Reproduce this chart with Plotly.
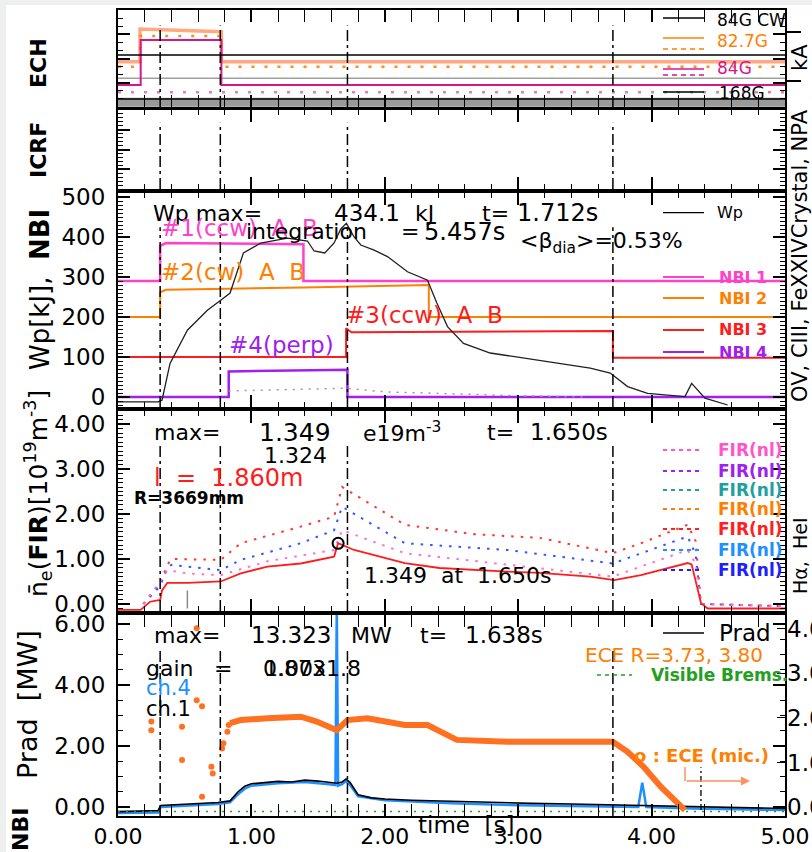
import plotly.graph_objects as go

W, H = 812, 852
FONT = "DejaVu Sans"

# ---------------- data ----------------
t_marks = [0.316, 0.767, 1.72, 3.71]
x_tick_vals = [0, 1, 2, 3, 4, 5]

# ECH panel (arbitrary units)
ech_cw_t = [0, 5]
ech_cw_v = [5.36, 5.36]
ech_gray_v = [2.96, 2.96]
ech827_t = [0, 0.165, 0.165, 0.775, 0.775, 5]
ech827_v = [4.67, 4.67, 8.04, 7.76, 4.67, 4.67]
ech827d_v = [4.15, 4.15, 7.32, 7.32, 4.15, 4.15]
ech84_t = [0, 0.17, 0.17, 0.775, 0.775, 5]
ech84_v = [2.27, 2.27, 6.9, 6.9, 2.27, 2.27]
ech84d_v = [1.52, 1.52]
ech168_v = [0.82, 0.82]
ech_band_v = [0.5, 0.5]
ka_ticks = [2.68, 7.73]

# NBI / Wp panel [kJ]
wp_t = [0, 0.30, 0.33, 0.39, 0.52, 0.67, 0.77, 0.84, 0.94, 1.07, 1.27, 1.42, 1.47, 1.55,
        1.62, 1.67, 1.712, 1.77, 1.82, 1.92, 2.02, 2.17, 2.32, 2.39, 2.47, 2.59, 2.79,
        3.16, 3.54, 3.69, 3.82, 3.97, 4.25, 4.30, 4.40, 4.57]
wp_v = [-12, -12, -8, 84, 167, 217, 242, 260, 360, 385, 397, 390, 365, 360,
        385, 420, 434.1, 400, 380, 367, 351, 313, 292, 235, 176, 134, 110,
        92, 72, 60, 26, 9, 1, 34, -3, -20]
nbi1_t = [0, 0.316, 0.316, 0.36, 1.39, 1.39, 5]
nbi1_v = [290, 290, 378, 385, 382, 290, 290]
nbi2_t = [0, 0.316, 0.316, 0.36, 1.39, 2.33, 2.33, 5]
nbi2_v = [200, 200, 262, 268, 274, 280, 200, 200]
nbi3_t = [0, 1.71, 1.71, 1.75, 3.71, 3.71, 5]
nbi3_v = [100, 100, 172, 162, 165, 98, 98]
nbi4_t = [0, 0.83, 0.83, 1.72, 1.72, 5]
nbi4_v = [0, 0, 64, 68, 0, 0]
nbi_gray_t = [0.83, 1.2, 1.7, 2.0, 2.5, 3.0, 3.5]
nbi_gray_v = [15, 18, 22, 13, 8, 3, 0]
nbi_ticks = [0, 100, 200, 300, 400, 500]

# FIR density panel [1e19 m^-3]
ne_t = [0, 0.17, 0.24, 0.316, 0.33, 0.37, 0.52, 0.77, 0.92, 1.12, 1.37, 1.62, 1.65, 1.77,
        2.15, 2.41, 2.92, 3.16, 3.54, 3.72, 3.92, 4.27, 4.30, 4.37, 4.42, 5.0]
ne_v = [-0.13, -0.13, 0.05, 0.09, 0.3, 0.47, 0.47, 0.5, 0.68, 0.83, 0.9, 1.05, 1.349, 1.2,
        0.91, 0.8, 0.72, 0.69, 0.61, 0.53, 0.64, 0.91, 0.88, 0.02, -0.1, -0.1]
fir_up_t = [0.19, 0.316, 0.37, 0.40, 0.77, 0.92, 1.37, 1.62, 1.68, 2.15, 2.67, 3.16, 3.71,
            3.92, 4.27, 4.33, 4.37, 5.0]
fir_up_v = [0.0, 0.47, 0.87, 1.0, 0.98, 1.35, 1.72, 1.94, 2.6, 1.76, 1.55, 1.47, 1.13,
            1.35, 1.76, 1.4, 0.0, -0.05]
fir_mid_t = [0.19, 0.316, 0.37, 0.40, 0.77, 0.92, 1.37, 1.62, 1.68, 2.15, 2.92, 3.71, 4.27,
             4.33, 4.37, 5.0]
fir_mid_v = [0.0, 0.4, 0.8, 0.87, 0.75, 0.98, 1.35, 1.64, 2.16, 1.35, 1.2, 0.9, 1.5,
             1.1, 0.0, -0.05]
fir_lo_t = [0.19, 0.316, 0.37, 0.52, 0.77, 1.12, 1.62, 1.68, 2.15, 2.92, 3.71, 4.27, 4.33,
            4.37, 5.0]
fir_lo_v = [0.0, 0.5, 0.75, 0.68, 0.64, 0.95, 1.2, 1.64, 1.13, 0.87, 0.61, 1.2, 0.9,
            0.0, -0.05]
fir_spike_t = [0.52, 0.52]
fir_spike_v = [-0.1, 0.3]
fir_max_t = [1.65]
fir_max_v = [1.349]
fir_ticks = [0, 1, 2, 3, 4]
fir_legend = ["FIR(nl)"] * 7
fir_legend_colors = ["#ff55cc", "#a020f0", "#20a0a0", "#ff8000", "#ff2020", "#1e90ff", "#2020ff"]

# Prad panel [MW]
prad_t = [0, 0.3, 0.32, 0.45, 0.6, 0.75, 0.84, 0.9, 0.95, 1.0, 1.1, 1.2, 1.3, 1.4, 1.5,
          1.6, 1.64, 1.68, 1.71, 1.74, 1.8, 1.9, 2.0, 2.2, 2.5, 2.8, 3.1, 3.4, 3.7, 4.0,
          4.3, 4.6, 5.0]
prad_v = [-0.15, -0.12, 0.05, 0.08, 0.12, 0.15, 0.2, 0.5, 0.68, 0.76, 0.8, 0.84, 0.82,
          0.88, 0.85, 0.8, 0.78, 0.82, 0.92, 0.8, 0.4, 0.3, 0.26, 0.22, 0.18, 0.15, 0.12,
          0.1, 0.07, 0.05, 0.02, 0.0, -0.05]
ch4_t = [0, 0.3, 0.32, 0.45, 0.6, 0.75, 0.84, 0.9, 0.95, 1.0, 1.2, 1.4, 1.6, 1.63, 1.64,
         1.65, 1.68, 1.71, 1.74, 1.8, 2.0, 2.5, 3.0, 3.5, 3.9, 3.93, 3.96, 4.3, 5.0]
ch4_v = [-0.2, -0.18, 0.0, 0.03, 0.07, 0.1, 0.15, 0.42, 0.6, 0.7, 0.78, 0.82, 0.74, 0.72,
         6.6, 0.7, 0.75, 0.85, 0.72, 0.35, 0.22, 0.12, 0.06, 0.02, 0.0, 0.8, 0.0, -0.05, -0.1]
ece_t = [0.84, 0.92, 1.12, 1.37, 1.49, 1.64, 1.72, 1.87, 2.15, 2.32, 2.54, 2.92, 3.71,
         3.82, 3.94, 4.07, 4.25]
ece_v = [2.75, 2.85, 2.91, 2.96, 2.8, 2.52, 2.85, 2.91, 2.69, 2.69, 2.2, 2.14, 2.14,
         1.81, 1.32, 0.66, -0.1]
ece_early_t = [0.25, 0.25, 0.48, 0.48, 0.59, 0.63, 0.59, 0.70, 0.71, 0.63, 0.78, 0.79, 0.82, 0.83]
ece_early_v = [2.8, 2.52, 2.63, 1.54, 3.5, 3.3, 5.86, 1.32, 1.1, 0.34, 1.92, 2.09, 2.47, 2.69]
brems_t = [0, 5]
brems_v = [-0.1, -0.1]          # on the right-hand axis
ece_mic_t = [4.37, 4.37]
ece_mic_v = [-0.1, 1.3]
prad_ticks = [0, 2, 4, 6]
r_ticks = [0, 1, 2, 3, 4]
r_labels = ["0.00", "1.00", "2.00", "3.00", "4.00"]

# ---------------- colours ----------------
BLACK = "#000000"
PINK = "#ff40c8"
ORANGE = "#ff8000"
RED = "#ff1c1c"
PURPLE = "#a020f0"
SALMON = "#ffa882"
ECH_OR = "#ff8c1a"
MAGENTA = "#d4188c"
PINKDOT = "#e47cc4"
CH4 = "#1f8fff"
GREEN = "#22a022"
ECE = "#ff7020"

# ---------------- layout geometry (pixels) ----------------
panels = {1: (10, 107), 2: (110, 189), 3: (193, 407), 4: (411, 611), 5: (615, 816)}
ranges = {1: [0, 10], 2: [0, 1], 3: [-25, 510], 4: [-0.156, 4.289], 5: [-0.295, 6.295]}
XL, XR = 118, 785


def px(x):
    return x / W


def py(y):
    return 1 - y / H


fig = go.Figure()


def add(x, y, xa, ya, color, width=1.5, dash="solid", mode="lines", marker=None):
    fig.add_trace(go.Scatter(x=x, y=y, xaxis=xa, yaxis=ya, mode=mode,
                             line=dict(color=color, width=width, dash=dash),
                             marker=marker, showlegend=False, hoverinfo="skip"))


DOTS = "3px,10px"
# ECH
add(ech_cw_t, ech_band_v, "x", "y", "#9a9a9a", 9)
add(ech_cw_t, ech168_v, "x", "y", BLACK, 1.5)
add(ech_cw_t, ech_gray_v, "x", "y", "#a0a0a0", 1.5)
add(ech_cw_t, ech_cw_v, "x", "y7", BLACK, 1.5)
add(ech827_t, ech827_v, "x", "y", SALMON, 3.5)
add(ech827_t, ech827d_v, "x", "y", ECH_OR, 2.5, DOTS)
add(ech84_t, ech84_v, "x", "y", MAGENTA, 2)
add(ech_cw_t, ech84d_v, "x", "y", PINKDOT, 2.5, DOTS)

# NBI / Wp
add(nbi1_t, nbi1_v, "x3", "y3", PINK, 2.5)
add(nbi2_t, nbi2_v, "x3", "y3", ORANGE, 2)
add(nbi3_t, nbi3_v, "x3", "y3", RED, 2)
add(nbi4_t, nbi4_v, "x3", "y3", PURPLE, 2.5)
add(nbi_gray_t, nbi_gray_v, "x3", "y3", "#9a9a9a", 1.5, "2px,6px")
add(wp_t, wp_v, "x3", "y3", "#202020", 1.3)

# FIR
FDOT = "2.5px,7px"
add(fir_up_t, fir_up_v, "x4", "y4", "#ff3535", 2, FDOT)
add(fir_mid_t, fir_mid_v, "x4", "y4", "#3355ff", 2, FDOT)
add(fir_lo_t, fir_lo_v, "x4", "y4", "#ff6fd0", 2, FDOT)
add(ne_t, ne_v, "x4", "y4", RED, 1.8)
add(fir_spike_t, fir_spike_v, "x4", "y4", "#8a8a8a", 1.5)
add(fir_max_t, fir_max_v, "x4", "y4", BLACK, 1, mode="markers",
    marker=dict(symbol="circle-open", size=11, color=BLACK, line=dict(width=2, color=BLACK)))

# Prad
add(brems_t, brems_v, "x5", "y6", GREEN, 1.5, "2px,6px")
add(ch4_t, ch4_v, "x5", "y5", CH4, 2.5)
add(prad_t, prad_v, "x5", "y5", BLACK, 1.6)
add(ece_mic_t, ece_mic_v, "x5", "y5", BLACK, 1.3, "6px,3px,2px,3px")
add(ece_t, ece_v, "x5", "y5", ECE, 6)
add(ece_early_t, ece_early_v, "x5", "y5", ECE, 1, mode="markers", marker=dict(size=6, color=ECE))

# ---------------- axes ----------------
ytick_cfg = {
    1: dict(dtick=2.5, minor=0.8333),
    2: dict(dtick=0.25, minor=0.05),
    3: dict(dtick=100, minor=10),
    4: dict(dtick=1, minor=0.1),
    5: dict(dtick=2, minor=0.5),
}
tickfont = dict(family=FONT, size=23, color=BLACK)
layout = {}
for i in range(1, 6):
    s = "" if i == 1 else str(i)
    top, bot = panels[i]
    layout["xaxis" + s] = dict(
        domain=[px(XL), px(XR)], range=[0, 5], anchor="y" + s, automargin=False,
        showline=True, linecolor=BLACK, linewidth=2, mirror="allticks",
        ticks="inside", ticklen=12, tickwidth=1.5, tickcolor=BLACK,
        tickvals=x_tick_vals, showgrid=False, zeroline=False,
        minor=dict(dtick=0.2, ticklen=5, tickwidth=1.2, tickcolor=BLACK, ticks="inside"),
        showticklabels=(i == 5), tickformat=".2f",
        tickfont=dict(family=FONT, size=22, color=BLACK),
        ticklabelstandoff=0,
    )
    ya = dict(
        domain=[py(bot), py(top)], range=ranges[i], anchor="x" + s, automargin=False,
        showline=True, linecolor=BLACK, linewidth=2, mirror="allticks",
        ticks="inside", ticklen=12, tickwidth=1.5, tickcolor=BLACK,
        dtick=ytick_cfg[i]["dtick"], tick0=0, showgrid=False, zeroline=False,
        minor=dict(dtick=ytick_cfg[i]["minor"], ticklen=5, tickwidth=1, tickcolor=BLACK,
                   ticks="inside"),
        showticklabels=(i >= 3), tickfont=tickfont, ticklabelstandoff=6,
    )
    if i == 3:
        ya["tickvals"] = nbi_ticks
    if i == 4:
        ya["tickvals"] = fir_ticks
        ya["tickformat"] = ".2f"
    if i == 5:
        ya["tickvals"] = prad_ticks
        ya["tickformat"] = ".2f"
    layout["yaxis" + s] = ya

layout["yaxis6"] = dict(overlaying="y5", side="right", anchor="x5", range=[-0.2, 4.31],
                        automargin=False,
                        tickvals=r_ticks, ticktext=r_labels, ticks="inside", ticklen=8,
                        tickcolor=BLACK, showgrid=False, zeroline=False, showline=False,
                        tickfont=tickfont, ticklabelstandoff=1)
layout["yaxis7"] = dict(overlaying="y", side="right", anchor="x", range=ranges[1],
                        automargin=False,
                        tickvals=ka_ticks, ticks="outside", ticklen=15, tickwidth=2,
                        tickcolor=BLACK, showticklabels=False, showgrid=False,
                        zeroline=False, showline=False)

# ---------------- shapes ----------------
shapes = [dict(type="rect", xref="paper", yref="paper", x0=px(6), x1=1, y0=0, y1=py(5),
               fillcolor="white", line=dict(width=0), layer="below")]
for i in range(1, 6):
    s = "" if i == 1 else str(i)
    for t in t_marks:
        shapes.append(dict(type="line", xref="x" + s, yref="y" + s + " domain",
                           x0=t, x1=t, y0=0, y1=0.84,
                           line=dict(color=BLACK, width=1.5, dash="11px,4px,3px,4px")))


def sample(x0, x1, y, color, width=1.5, dash="solid"):
    shapes.append(dict(type="line", xref="paper", yref="paper", x0=px(x0), x1=px(x1),
                       y0=py(y), y1=py(y), line=dict(color=color, width=width, dash=dash)))


annotations = []


def note(x, y, text, size=22, color=BLACK, anchor="left", angle=0):
    annotations.append(dict(xref="paper", yref="paper", x=px(x), y=py(y), text=text,
                            showarrow=False, xanchor=anchor, yanchor="middle",
                            textangle=angle, borderpad=0,
                            font=dict(family=FONT, size=size, color=color)))


# ECH legend
sample(663, 704, 18, BLACK)
note(716, 20, "84G CW", 17)
sample(663, 704, 38, ORANGE, 1.5)
sample(663, 704, 49, ORANGE, 1.5, "5px,4px")
note(716, 41, "82.7G", 17, ORANGE)
sample(663, 704, 69, MAGENTA, 1.5)
sample(663, 704, 75, MAGENTA, 1.5, "5px,4px")
note(716, 68, "84G", 17, MAGENTA)
sample(663, 704, 92, BLACK)
note(718, 93, "168G", 17)

# NBI / Wp texts
note(152, 213, "Wp max=", 22)
note(333, 213, "434.1", 23)
note(414, 213, "kJ", 22)
note(481, 213, "t=", 22)
note(516, 213, "1.712s", 24)
note(160, 228, "#1(ccw)  A  B", 23, PINK)
note(245, 232, "integration", 22)
note(400, 232, "=", 22)
note(423, 232, "5.457s", 24)
note(519, 243, "&lt;β<sub>dia</sub>&gt;=0.53%", 22)
note(160, 272, "#2(cw)  A  B", 23, ORANGE)
note(345, 315, "#3(ccw)  A  B", 23, RED)
note(228, 345, "#4(perp)", 23, PURPLE)
sample(663, 704, 212.7, BLACK, 1.3)
note(716, 212, "Wp", 16)
for yy, lab, col in [(277, "NBI 1", PINK), (298, "NBI 2", ORANGE), (330, "NBI 3", RED),
                     (352, "NBI 4", PURPLE)]:
    sample(663, 704, yy, col, 2)
    note(718, yy, "<b>" + lab + "</b>", 16, col)

# FIR texts
note(153, 432, "max=", 22)
note(258, 432, "1.349", 25)
note(362, 432, "e19m<sup>-3</sup>", 22)
note(486, 432, "t=", 22)
note(529, 432, "1.650s", 23)
note(263, 456, "1.324", 22)
note(153, 478, "l  =  1.860m", 24, RED)
note(133, 498, "<b>R=3669mm</b>", 17)
note(363, 575, "1.349  at  1.650s", 22)
fir_rows = [450, 471, 490, 509, 529, 550, 570]
for yy, lab, col in zip(fir_rows, fir_legend, fir_legend_colors):
    sample(663, 700, yy, col, 1.8, "4px,4px")
    note(717, yy, "<b>" + lab + "</b>", 17, col)

# Prad texts
note(153, 635, "max=", 22)
note(250, 635, "13.323", 23)
note(350, 635, "MW", 22)
note(419, 635, "t=", 22)
note(464, 635, "1.638s", 23)
note(145, 668, "gain", 22)
note(213, 668, "=", 22)
note(263, 668, "1.00x1.8", 22)
note(262, 668, "0.873", 22)
note(145, 688, "ch.4", 21, CH4)
note(145, 709, "ch.1", 21)
sample(663, 704, 633, BLACK, 1.5)
note(718, 633, "Prad", 23)
note(584, 655, "ECE R=3.73, 3.80", 20, ORANGE)
sample(597, 632, 675, GREEN, 1.5, "4px,4px")
note(650, 675, "<b>Visible Brems.</b>", 17, GREEN)
note(633, 755, "<b>o : ECE (mic.)</b>", 18, ORANGE)
shapes.append(dict(type="line", xref="paper", yref="paper", x0=px(685), x1=px(685),
                   y0=py(767), y1=py(781), line=dict(color="#ff9060", width=1.5)))
annotations.append(dict(xref="paper", yref="paper", x=px(750), y=py(781), ax=-65, ay=0,
                        text="", showarrow=True, arrowhead=2, arrowsize=1.2,
                        arrowwidth=1.5, arrowcolor="#ff9060"))
note(417, 825, "time  [s]", 23)

# axis titles (rotated)
note(38, 63, "<b>ECH</b>", 22, anchor="center", angle=-90)
note(38, 150, "<b>ICRF</b>", 22, anchor="center", angle=-90)
note(40, 290, "Wp[kJ],  <b>NBI</b>", 26, anchor="center", angle=-90)
note(38, 494, "n̄<sub>e</sub>(<b>FIR</b>)[10<sup>19</sup>m<sup>-3</sup>]", 25,
     anchor="center", angle=-90)
note(27, 705, "Prad  [MW]", 27, anchor="center", angle=-90)
note(20, 830, "<b>NBI</b>", 22, anchor="center", angle=-90)

# right side labels
note(800, 58, "kA", 21, anchor="center", angle=-90)
note(800, 256, "OV, CIII, FeXXIVCrystal, NPA", 21, anchor="center", angle=-90)
note(800, 556, "Hα,  HeI", 19, anchor="center", angle=-90)

fig.update_layout(
    width=W, height=H, autosize=False,
    margin=dict(l=0, r=0, t=0, b=0, autoexpand=False),
    paper_bgcolor="#eef0f0", plot_bgcolor="white",
    showlegend=False, shapes=shapes, annotations=annotations,
    font=dict(family=FONT, color=BLACK),
    **layout,
)

fig.write_html("out.html")
